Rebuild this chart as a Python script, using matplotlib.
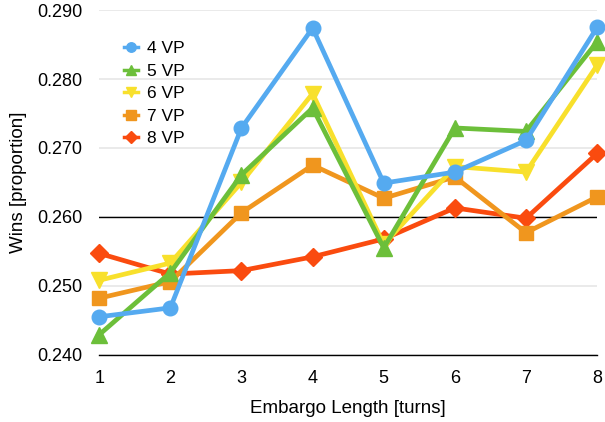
import matplotlib.pyplot as plt

plt.rcParams['font.family'] = ['Liberation Sans', 'DejaVu Sans']

turns = [1, 2, 3, 4, 5, 6, 7, 8]
labels = ['4 VP', '5 VP', '6 VP', '7 VP', '8 VP']
vp4 = [0.2455, 0.2468, 0.2729, 0.2874, 0.2649, 0.2665, 0.2711, 0.2875]
vp5 = [0.2429, 0.2519, 0.2661, 0.2758, 0.2555, 0.2729, 0.2724, 0.2854]
vp6 = [0.2508, 0.2533, 0.2650, 0.2779, 0.2560, 0.2673, 0.2665, 0.2820]
vp7 = [0.2482, 0.2506, 0.2606, 0.2675, 0.2627, 0.2658, 0.2577, 0.2629]
vp8 = [0.2547, 0.2517, 0.2522, 0.2542, 0.2568, 0.2613, 0.2598, 0.2692]
series = [vp4, vp5, vp6, vp7, vp8]
colors = ['#55aaf0', '#6cbf3a', '#f8e02c', '#f0961e', '#fa4b0f']
markers = ['o', '^', 'v', 's', 'D']
msizes = [10.5, 11, 11, 10, 9]

fig = plt.figure(figsize=(6.05, 4.22), dpi=100)
ax = fig.add_axes([0.164, 0.1595, 0.823, 0.8165])

handles = []
for i in range(len(series) - 1, -1, -1):
    h, = ax.plot(turns, series[i], color=colors[i], marker=markers[i],
                 markersize=msizes[i], linewidth=3.4, label=labels[i],
                 clip_on=False, zorder=3 + (len(series) - i))
    handles.append(h)
handles = handles[::-1]

ax.set_xlim(1, 8)
ax.set_ylim(0.240, 0.290)
ax.set_yticks([0.240, 0.250, 0.260, 0.270, 0.280, 0.290])
ax.set_yticklabels(['0.240', '0.250', '0.260', '0.270', '0.280', '0.290'])
ax.set_xticks(turns)
ax.grid(axis='y', color='#e6e6e6', linewidth=1.2, zorder=0)
ax.axhline(0.260, color='black', linewidth=1.0, zorder=2)
for s in ['left', 'right', 'top']:
    ax.spines[s].set_visible(False)
ax.spines['bottom'].set_linewidth(1.0)
ax.tick_params(length=0, labelsize=13)
ax.tick_params(axis='x', pad=11)
ax.tick_params(axis='y', pad=12)
ax.set_xlabel('Embargo Length [turns]', fontsize=13.5)
ax.set_ylabel('Wins [proportion]', fontsize=13.5)
ax.xaxis.set_label_coords(0.5, -0.131)
ax.yaxis.set_label_coords(-0.145, 0.5)

leg = ax.legend(handles=handles, loc='upper left', bbox_to_anchor=(0.018, 0.955),
                frameon=False, fontsize=12.5, handlelength=0.8, labelspacing=0.42,
                handletextpad=0.55, markerscale=0.65)
for line in leg.get_lines():
    line.set_linewidth(2.5)

fig.savefig('out.png', dpi=100)
